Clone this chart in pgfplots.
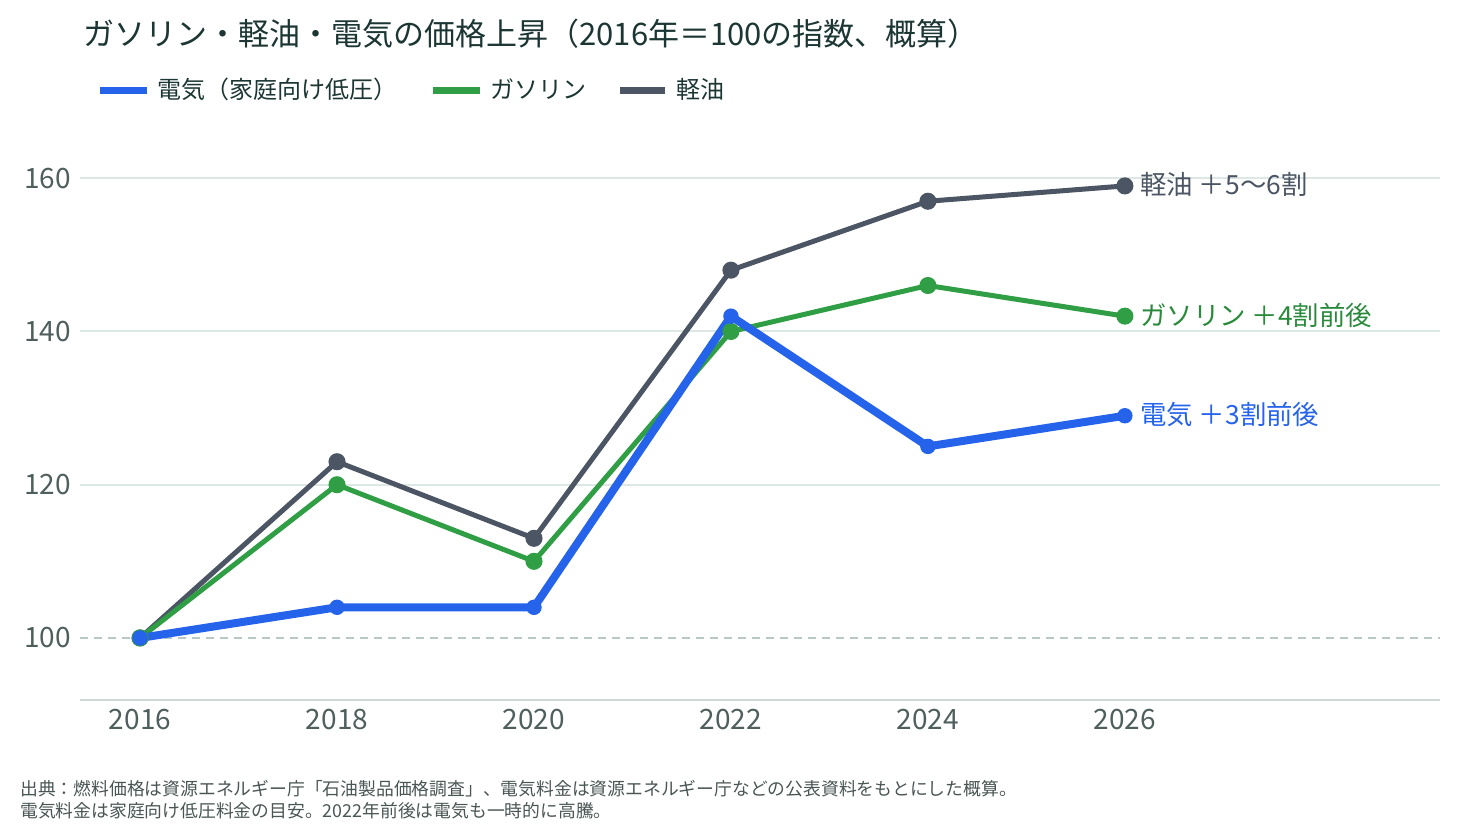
\documentclass[border=0pt]{standalone}
\usepackage{pgfplots}
\pgfplotsset{compat=1.18}
\usepackage{fontspec}
\setmainfont{Noto Sans CJK JP}
\definecolor{elec}{HTML}{2563EB}
\definecolor{gaso}{HTML}{2F9E44}
\definecolor{dies}{HTML}{4B5563}
\definecolor{titlec}{HTML}{1C3634}
\definecolor{tickc}{HTML}{4F5F5D}
\definecolor{gridc}{HTML}{DDE7E4}
\definecolor{basec}{HTML}{B7C8C5}
\definecolor{axisc}{HTML}{CCD8D5}
\definecolor{notec}{HTML}{4A5654}
\definecolor{gasolab}{HTML}{2A8A3C}
\begin{document}
\begin{tikzpicture}
\useasboundingbox (-40bp,-66.5bp) rectangle (691bp,350bp);
\begin{axis}[
  at={(0,0)}, anchor=south west,
  scale only axis, width=680bp, height=285bp,
  xmin=2015.39, xmax=2029.2, ymin=91.9, ymax=166.3,
  axis x line=bottom, axis y line=left,
  x axis line style={draw=axisc, line width=1bp, -},
  y axis line style={draw=none, -},
  xtick={2016,2018,2020,2022,2024,2026},
  xticklabels={2016,2018,2020,2022,2024,2026},
  ytick={100,120,140,160},
  major tick length=0pt,
  tick label style={font=\fontsize{14bp}{16bp}\selectfont, text=tickc},
  /pgf/number format/assume math mode=true,
  yticklabel style={xshift=-1bp},
  xticklabel style={yshift=-1bp},
  clip=false,
]
% horizontal guide lines
\addplot[draw=gridc, line width=1bp, forget plot] coordinates {(2015.39,120) (2029.2,120)};
\addplot[draw=gridc, line width=1bp, forget plot] coordinates {(2015.39,140) (2029.2,140)};
\addplot[draw=gridc, line width=1bp, forget plot] coordinates {(2015.39,160) (2029.2,160)};
\addplot[draw=basec, line width=1bp, dash pattern=on 4bp off 3bp, forget plot] coordinates {(2015.39,100) (2029.2,100)};
% series
\addplot[draw=dies, line width=2.5bp, mark=*, mark size=3bp, mark options={fill=dies, draw=dies}] coordinates {
 (2016,100) (2018,123) (2020,113) (2022,148) (2024,157) (2026,159)};
\addplot[draw=gaso, line width=2.5bp, mark=*, mark size=3bp, mark options={fill=gaso, draw=gaso}] coordinates {
 (2016,100) (2018,120) (2020,110) (2022,140) (2024,146) (2026,142)};
\addplot[draw=elec, line width=4bp, mark=*, mark size=3.6bp, mark options={fill=elec, draw=elec, line width=0.5bp}] coordinates {
 (2016,100) (2018,104) (2020,104) (2022,142) (2024,125) (2026,129)};
% end-of-line labels
\node[anchor=west, text=dies, font=\fontsize{13.2bp}{15bp}\selectfont, inner sep=0pt] at (axis cs:2026,159) [xshift=7.5bp, yshift=0.5bp] {軽油 ＋5〜6割};
\node[anchor=west, text=gasolab, font=\fontsize{13.2bp}{15bp}\selectfont, inner sep=0pt] at (axis cs:2026,142) [xshift=7.5bp, yshift=0.5bp] {ガソリン ＋4割前後};
\node[anchor=west, text=elec, font=\fontsize{13.2bp}{15bp}\selectfont, inner sep=0pt] at (axis cs:2026,129) [xshift=7.5bp, yshift=0.5bp] {電気 ＋3割前後};
\end{axis}
% title
\node[anchor=base west, text=titlec, font=\fontsize{15.5bp}{18bp}\selectfont, inner sep=0pt] at (1.5bp,327bp) {ガソリン・軽油・電気の価格上昇（2016年＝100の指数、概算）};
% legend
\draw[elec, line width=3.5bp] (10bp,304.5bp) -- (33.5bp,304.5bp);
\node[anchor=base west, text=titlec, font=\fontsize{12bp}{14bp}\selectfont, inner sep=0pt] at (38.5bp,300.5bp) {電気（家庭向け低圧）};
\draw[gaso, line width=3.5bp] (176.5bp,304.5bp) -- (200bp,304.5bp);
\node[anchor=base west, text=titlec, font=\fontsize{12bp}{14bp}\selectfont, inner sep=0pt] at (205bp,300.5bp) {ガソリン};
\draw[dies, line width=3.5bp] (270bp,304.5bp) -- (292.5bp,304.5bp);
\node[anchor=base west, text=titlec, font=\fontsize{12bp}{14bp}\selectfont, inner sep=0pt] at (298bp,300.5bp) {軽油};
% source notes
\node[anchor=base west, text=notec, font=\fontsize{8.9bp}{10bp}\selectfont, inner sep=0pt] at (-30bp,-47.5bp) {出典：燃料価格は資源エネルギー庁「石油製品価格調査」、電気料金は資源エネルギー庁などの公表資料をもとにした概算。};
\node[anchor=base west, text=notec, font=\fontsize{8.9bp}{10bp}\selectfont, inner sep=0pt] at (-30bp,-58.5bp) {電気料金は家庭向け低圧料金の目安。2022年前後は電気も一時的に高騰。};
\end{tikzpicture}
\end{document}
